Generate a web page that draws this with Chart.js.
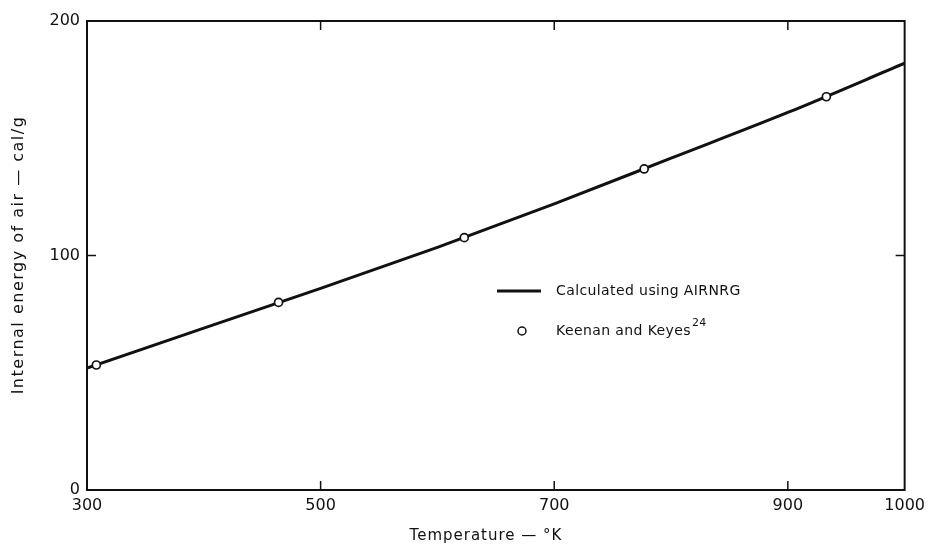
<!DOCTYPE html>
<html>
<head>
<meta charset="utf-8">
<script src="https://cdn.jsdelivr.net/npm/chart.js@4"></script>
<style>
  html, body { margin: 0; padding: 0; background: #fff; }
  #wrap { width: 931px; height: 548px; position: relative; }
</style>
</head>
<body>
<div id="wrap"><canvas id="energyChart" width="931" height="548"></canvas></div>
<script>
// AIRNRG curve (temperature K, internal energy cal/g)
const curveTemp = [300, 400, 500, 600, 700, 800, 900, 1000];
const curveEnergy = [52, 69, 86, 103.5, 122, 141.5, 161, 182];

// Keenan and Keyes reference points
const refTemp = [308, 464, 623, 777, 933];
const refEnergy = [53.3, 80, 107.6, 136.9, 167.7];

const xTicks = [300, 500, 700, 900, 1000];
const yTicks = [0, 100, 200];

const FONT = '"DejaVu Sans", sans-serif';
const INK = '#111';

// frame, inward tick marks, axis titles and the in-plot legend
const framePlugin = {
  id: 'frame',
  afterDraw(chart) {
    const { ctx, chartArea: a, scales } = chart;
    ctx.save();
    ctx.strokeStyle = INK;
    ctx.lineWidth = 2;
    ctx.strokeRect(a.left, a.top, a.right - a.left, a.bottom - a.top);

    ctx.lineWidth = 1.5;
    const tl = 9;
    xTicks.slice(1, -1).forEach(v => {
      const x = scales.x.getPixelForValue(v);
      ctx.beginPath();
      ctx.moveTo(x, a.bottom); ctx.lineTo(x, a.bottom - tl);
      ctx.moveTo(x, a.top); ctx.lineTo(x, a.top + tl);
      ctx.stroke();
    });
    yTicks.slice(1, -1).forEach(v => {
      const y = scales.y.getPixelForValue(v);
      ctx.beginPath();
      ctx.moveTo(a.left, y); ctx.lineTo(a.left + tl, y);
      ctx.moveTo(a.right, y); ctx.lineTo(a.right - tl, y);
      ctx.stroke();
    });

    // axis titles
    ctx.fillStyle = INK;
    ctx.textAlign = 'center';
    ctx.textBaseline = 'middle';
    ctx.letterSpacing = '1px';
    ctx.font = '15px ' + FONT;
    ctx.fillText('Temperature — °K', 486, 536);
    ctx.save();
    ctx.translate(19, 255);
    ctx.rotate(-Math.PI / 2);
    ctx.letterSpacing = '1.5px';
    ctx.font = '16px ' + FONT;
    ctx.fillText('Internal energy of air — cal/g', 0, 0);
    ctx.restore();

    // legend
    const lx = 497, tx = 556, y1 = 291, y2 = 331;
    ctx.lineWidth = 3;
    ctx.beginPath();
    ctx.moveTo(lx, y1); ctx.lineTo(lx + 44, y1);
    ctx.stroke();
    ctx.lineWidth = 1.5;
    ctx.fillStyle = '#fff';
    ctx.beginPath();
    ctx.arc(lx + 25, y2, 4, 0, Math.PI * 2);
    ctx.fill(); ctx.stroke();

    ctx.fillStyle = INK;
    ctx.textAlign = 'left';
    ctx.letterSpacing = '0.4px';
    ctx.font = '14px ' + FONT;
    ctx.fillText('Calculated using AIRNRG', tx, y1);
    const k = 'Keenan and Keyes';
    ctx.fillText(k, tx, y2);
    const kw = ctx.measureText(k).width;
    ctx.font = '11px ' + FONT;
    ctx.fillText('24', tx + kw + 1, y2 - 8);
    ctx.restore();
  }
};

new Chart(document.getElementById('energyChart'), {
  type: 'scatter',
  data: {
    datasets: [
      {
        label: 'Keenan and Keyes',
        data: refTemp.map((t, i) => ({ x: t, y: refEnergy[i] })),
        pointRadius: 4,
        pointBackgroundColor: '#fff',
        pointBorderColor: INK,
        pointBorderWidth: 1.7,
        showLine: false,
        order: 0
      },
      {
        label: 'Calculated using AIRNRG',
        type: 'line',
        data: curveTemp.map((t, i) => ({ x: t, y: curveEnergy[i] })),
        borderColor: INK,
        borderWidth: 3,
        pointRadius: 0,
        cubicInterpolationMode: 'monotone',
        fill: false,
        order: 1
      }
    ]
  },
  options: {
    responsive: false,
    animation: false,
    layout: { padding: { left: 0, top: 21, right: 25, bottom: 0 } },
    plugins: {
      legend: { display: false },
      tooltip: { enabled: false }
    },
    scales: {
      x: {
        type: 'linear',
        min: 300,
        max: 1000,
        afterBuildTicks: s => { s.ticks = xTicks.map(v => ({ value: v })); },
        afterFit: s => { s.height = 58; },
        grid: { display: false, drawTicks: false },
        border: { display: false },
        ticks: {
          color: INK,
          font: { family: FONT, size: 16 },
          padding: 6,
          maxRotation: 0,
          callback: v => String(v)
        }
      },
      y: {
        min: 0,
        max: 200,
        afterBuildTicks: s => { s.ticks = yTicks.map(v => ({ value: v })); },
        afterFit: s => { s.width = 87; },
        grid: { display: false, drawTicks: false },
        border: { display: false },
        ticks: {
          color: INK,
          font: { family: FONT, size: 16 },
          padding: 7,
          callback: v => String(v)
        }
      }
    }
  },
  plugins: [framePlugin]
});
</script>
</body>
</html>
